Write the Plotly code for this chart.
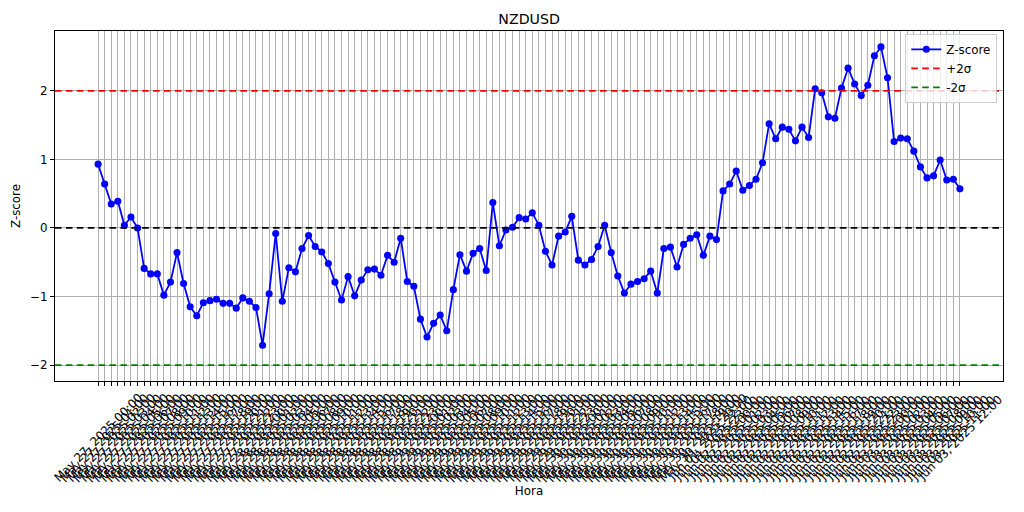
import plotly.graph_objects as go

# ---- data ----
session_days = ["May 27", "May 28", "May 29", "May 30", "Jun 01", "Jun 02", "Jun 03"]
session_hours = [
    list(range(0, 24)),
    list(range(0, 24)),
    list(range(0, 24)),
    list(range(0, 21)),
    [22, 23],
    list(range(0, 24)),
    list(range(0, 13)),
]
hour_labels = [f"{d}, 2025 {h:02d}:00" for d, hrs in zip(session_days, session_hours) for h in hrs]

zscore = [
    0.93, 0.64, 0.35, 0.39, 0.04, 0.16, 0.00, -0.59, -0.67, -0.67,
    -0.98, -0.79, -0.36, -0.81, -1.15, -1.28, -1.09, -1.06, -1.04, -1.10,
    -1.10, -1.17, -1.02, -1.07, -1.16, -1.71, -0.96, -0.08, -1.07, -0.58,
    -0.64, -0.30, -0.11, -0.27, -0.35, -0.52, -0.79, -1.05, -0.71, -0.99,
    -0.76, -0.61, -0.60, -0.69, -0.40, -0.50, -0.15, -0.78, -0.85, -1.33,
    -1.59, -1.39, -1.27, -1.50, -0.90, -0.39, -0.63, -0.37, -0.30, -0.62,
    0.37, -0.26, -0.03, 0.01, 0.15, 0.13, 0.22, 0.04, -0.34, -0.54,
    -0.12, -0.06, 0.17, -0.47, -0.54, -0.46, -0.27, 0.04, -0.36, -0.70,
    -0.95, -0.82, -0.78, -0.74, -0.63, -0.95, -0.30, -0.28, -0.57, -0.24,
    -0.15, -0.10, -0.40, -0.12, -0.17, 0.54, 0.64, 0.83, 0.55, 0.62,
    0.71, 0.95, 1.52, 1.30, 1.47, 1.44, 1.27, 1.47, 1.32, 2.03,
    1.97, 1.62, 1.60, 2.04, 2.33, 2.10, 1.93, 2.08, 2.51, 2.64,
    2.19, 1.26, 1.31, 1.30, 1.12, 0.89, 0.73, 0.76, 0.99, 0.70,
    0.71, 0.57,
]

upper_band = 2
lower_band = -2
center_line = 0
y_ticks = [-2, -1, 0, 1, 2]

FONT = "DejaVu Sans"
TICK_PX = 11.85
DASH = "6.6px,4.3px"

fig = go.Figure()
fig.add_trace(go.Scatter(
    x=hour_labels, y=zscore, mode="lines+markers", name="Z-score",
    line=dict(color="blue", width=1.78),
    marker=dict(color="blue", size=7.1, line=dict(width=0)),
))

shapes = [
    dict(type="line", xref="paper", x0=0, x1=1, yref="y", y0=upper_band, y1=upper_band,
         line=dict(color="red", width=1.78, dash=DASH), showlegend=True, name="+2σ"),
    dict(type="line", xref="paper", x0=0, x1=1, yref="y", y0=lower_band, y1=lower_band,
         line=dict(color="green", width=1.78, dash=DASH), showlegend=True, name="-2σ"),
    dict(type="line", xref="paper", x0=0, x1=1, yref="y", y0=center_line, y1=center_line,
         line=dict(color="black", width=1.78, dash=DASH)),
]

annotations = [
    dict(x=lab, xref="x", y=0, yref="paper", text=lab, textangle=-45,
         xanchor="center", yanchor="middle", yshift=-57, showarrow=False,
         font=dict(family=FONT, size=TICK_PX, color="black"))
    for lab in hour_labels
]

n = len(hour_labels)
pad = 0.05 * (n - 1)

fig.update_layout(
    width=1024, height=512, autosize=False,
    margin=dict(l=55, r=21, t=31, b=131),
    paper_bgcolor="white", plot_bgcolor="white",
    font=dict(family=FONT, size=TICK_PX, color="black"),
    title=dict(text="NZDUSD", x=0.5167, xanchor="center", y=1 - 19 / 512, yanchor="middle",
               yref="container", font=dict(family=FONT, size=14.2, color="black")),
    shapes=shapes,
    annotations=annotations,
    legend=dict(x=0.994, xanchor="right", y=0.992, yanchor="top",
                bgcolor="rgba(255,255,255,0.8)", bordercolor="#cccccc", borderwidth=1,
                font=dict(family=FONT, size=TICK_PX, color="black"),
                itemwidth=30, tracegroupgap=0),
    showlegend=True,
)

fig.update_xaxes(
    type="category", range=[-pad, n - 1 + pad],
    tickmode="array", tickvals=hour_labels,
    showticklabels=False, ticks="outside", ticklen=4, tickwidth=0.95, tickcolor="black",
    showgrid=True, gridcolor="#b0b0b0", gridwidth=0.95,
    showline=True, linecolor="black", linewidth=0.95, mirror=True,
    zeroline=False,
    title=dict(text="Hora", standoff=101, font=dict(family=FONT, size=TICK_PX, color="black")),
    automargin=False,
)
fig.update_yaxes(
    range=[-2.232, 2.872], tickvals=y_ticks, ticktext=[str(v).replace("-", "\u2212") for v in y_ticks],
    ticks="outside", ticklen=4, tickwidth=0.95, tickcolor="black",
    showgrid=True, gridcolor="#b0b0b0", gridwidth=0.95,
    showline=True, linecolor="black", linewidth=0.95, mirror=True,
    zeroline=False,
    tickfont=dict(family=FONT, size=TICK_PX, color="black"),
    title=dict(text="Z-score", standoff=7, font=dict(family=FONT, size=TICK_PX, color="black")),
    automargin=False,
)

fig.write_html(
    "out.html",
    config={"displayModeBar": False},
    post_script="document.body.style.margin='0';document.body.style.padding='0';",
)
